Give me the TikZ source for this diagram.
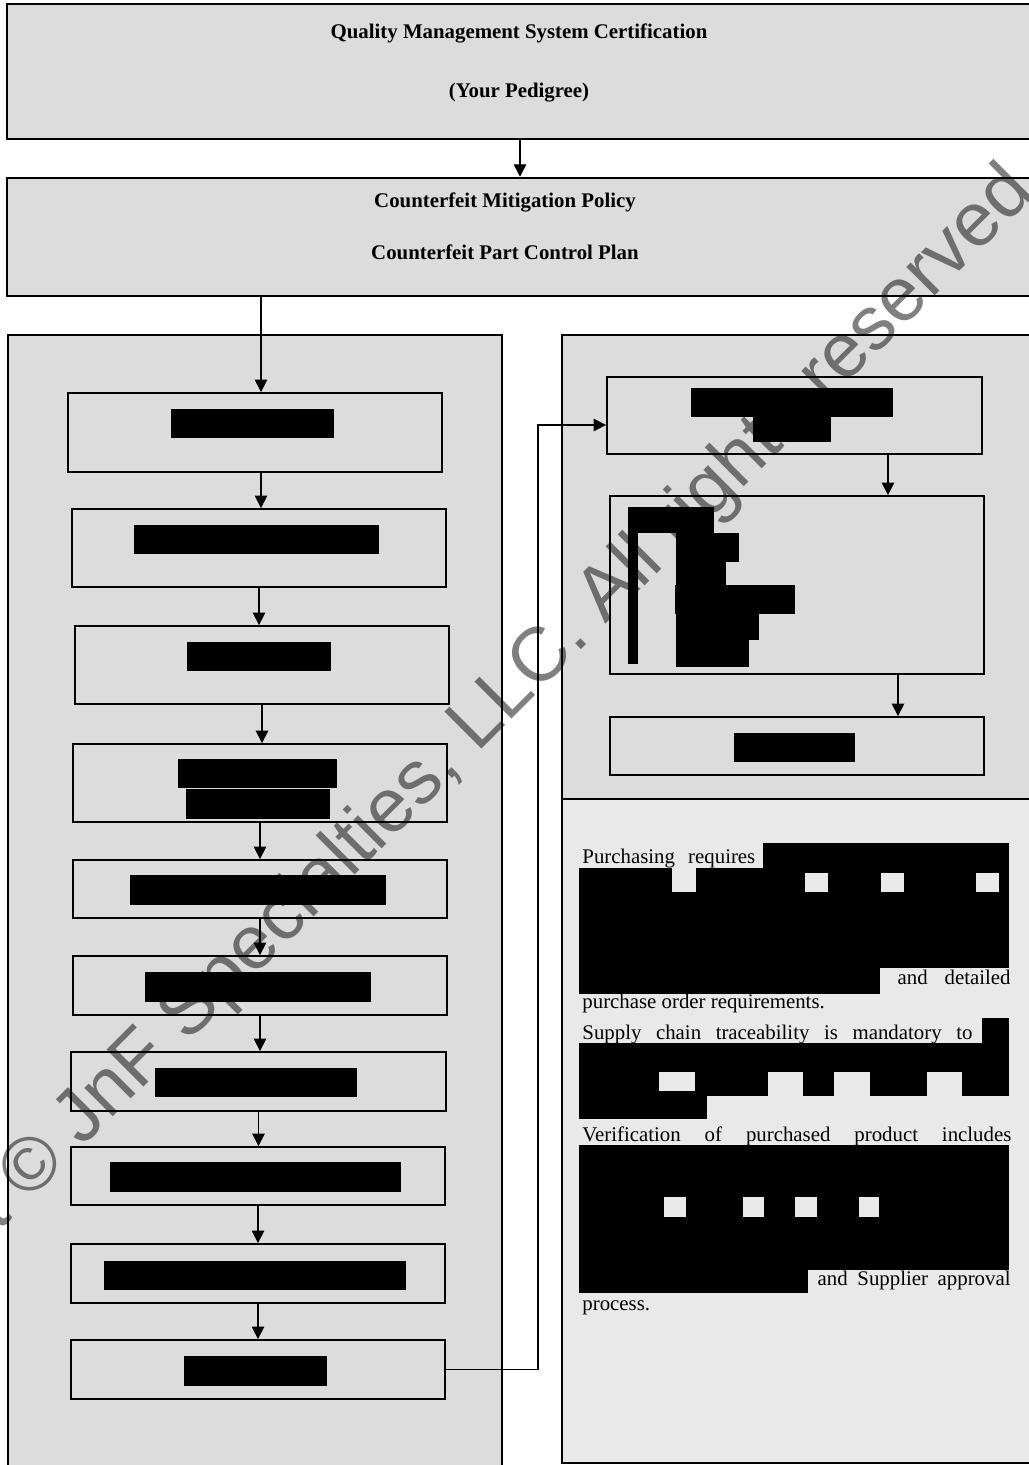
\documentclass[tikz,border=0pt]{standalone}
\usepackage{fontspec}
\setmainfont{Liberation Serif}
\newfontfamily\wmfont{Liberation Sans}
\usetikzlibrary{arrows.meta,fit,calc}
\definecolor{panelgray}{RGB}{220,220,220}
\definecolor{notegray}{RGB}{233,233,233}
\definecolor{markgray}{RGB}{128,128,128}
\tikzset{
  stepbox/.style={draw, line width=0.9pt, fill=panelgray, inner sep=0pt},
  panel/.style={draw, line width=0.8pt, inner sep=0pt},
  arr/.style={-{Triangle[length=6pt,width=6pt]}, line width=0.7pt},
  redact/.style={fill=black},
  gap/.style={fill=notegray},
  body/.style={inner sep=0pt}
}
\begin{document}
\begin{tikzpicture}[x=0.48pt, y=-0.48pt]
    \clip (0,0) rectangle (1029,1465);
    % panels
    \node[panel, fill=panelgray, fit={(8,335) (502,1475)}] (leftpanel) {};
    \node[panel, fill=panelgray, fit={(562,335) (1040,799)}] (rightpanel) {};
    \node[panel, fill=notegray, fit={(562,799) (1040,1463)}] (notepanel) {};

    % top boxes
    \node[stepbox, line width=1.2pt, fit={(7,4) (1033,139)}] (qms) {};
    \node[font=\bfseries] (qmstitle) at (519,33) {Quality Management System Certification};
    \node[font=\bfseries] (pedigree) at (519,93) {(Your Pedigree)};
    \node[stepbox, line width=1.2pt, fit={(7,178) (1033,296)}] (policy) {};
    \node[font=\bfseries] (policytitle) at (505,202) {Counterfeit Mitigation Policy};
    \node[font=\bfseries] (plantitle) at (505,252) {Counterfeit Part Control Plan};

    % left column of steps
    \foreach \n/\xa/\ya/\xb/\yb in {1/68/393/442/472, 2/72/509/446/587, 3/75/626/449/704,
        4/73/744/447/822, 5/73/860/447/918, 6/73/956/447/1015, 7/71/1052/446/1111,
        8/71/1147/445/1205, 9/71/1244/445/1303, 10/71/1340/445/1399} {
        \node[stepbox, fit={(\xa,\ya) (\xb,\yb)}] (b\n) {};
    }

    % right column of steps
    \node[stepbox, fit={(607,377) (982,454)}] (r1) {};
    \node[stepbox, fit={(610,496) (984,674)}] (r2) {};
    \node[stepbox, fit={(610,717) (984,775)}] (r3) {};

    % redacted labels
    \foreach \xa/\ya/\xb/\yb in {171/409/334/438, 134/525/379/554, 187/642/331/671,
        178/759/337/788, 186/789/330/819, 130/875/386/905, 145/972/371/1002,
        155/1068/357/1097, 110/1162/401/1192, 104/1261/406/1290, 184/1356/327/1386,
        691/388/893/417, 753/417/831/442, 628/507/714/533, 628/533/638/664,
        676/533/739/562, 676/562/726/585, 675/585/795/614, 676/614/759/640,
        676/640/749/667, 734/733/855/762} {
        \fill[redact] (\xa,\ya) rectangle (\xb,\yb);
    }

    % arrows
    \coordinate (c01) at (261,0);
    \coordinate (c12) at (888,0);
    \coordinate (c23) at (898,0);
    \draw[arr] (qms.south) -- (policy.north);
    \draw[arr] (policy.south -| c01) -- (b1.north -| c01);
    \draw[arr] (b1.south -| c01) -- (b2.north -| c01);
    \foreach \i/\j in {2/3, 3/4, 4/5, 5/6, 6/7, 7/8, 8/9, 9/10} {
        \draw[arr] (b\i.south) -- (b\i.south |- b\j.north);
    }
    \draw[arr] (r1.south -| c12) -- (r2.north -| c12);
    \draw[arr] (r2.south -| c23) -- (r3.north -| c23);
    \draw[arr] (b10.east) -- ++(92,0) |- ($(r1.west)+(0,9.5)$);

    % notes
    \node[body, anchor=base west] (purch) at (582,863) {\makebox[83pt][s]{Purchasing requires}};
    \node[body, anchor=base east] (detailed) at (1011,984) {\makebox[54.2pt][s]{and detailed}};
    \node[body, anchor=base west] (poreq) at (582,1008) {purchase order requirements.};
    \node[body, anchor=base west] (supply) at (582,1039) {\makebox[187.2pt][s]{Supply chain traceability is mandatory to}};
    \node[body, anchor=base west] (verif) at (582,1141) {\makebox[205.9pt][s]{Verification of purchased product includes}};
    \node[body, anchor=base east] (approval) at (1011,1285) {\makebox[92.6pt][s]{and Supplier approval}};
    \node[body, anchor=base west] (process) at (582,1310) {process.};
    \foreach \xa/\ya/\xb/\yb in {763/843/1009/868, 579/868/1009/968, 579/968/880/994,
        982/1018/1009/1043, 579/1043/1009/1096, 579/1096/707/1119,
        579/1145/1009/1270, 579/1270/808/1293} {
        \fill[redact] (\xa,\ya) rectangle (\xb,\yb);
    }
    \foreach \xa/\ya/\xb/\yb in {672/868/696/892, 805/873/828/892, 881/873/904/892, 976/873/999/892,
        659/1072/695/1091, 768/1072/803/1096, 834/1072/870/1096, 927/1072/962/1096,
        664/1197/686/1217, 743/1197/764/1217, 795/1197/817/1217, 859/1197/879/1217} {
        \fill[gap] (\xa,\ya) rectangle (\xb,\yb);
    }

    % watermark
    \begin{scope}[blend mode=multiply]
        \node[font=\wmfont\fontsize{36.5}{40}\selectfont, text=markgray, rotate=45] (mark) at (396,807)
            {Copyright © JnF Specialties, LLC. All rights reserved};
    \end{scope}
\end{tikzpicture}
\end{document}
